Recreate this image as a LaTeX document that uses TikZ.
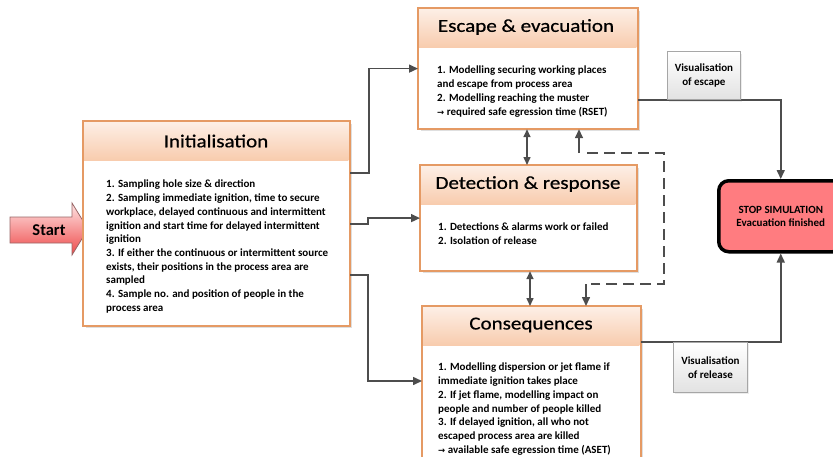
\documentclass[tikz,border=0pt]{standalone}
\usepackage{fontspec}
\setmainfont{Carlito}
\newfontfamily\titlefont[FakeStretch=1.15,FakeBold=0.6]{Carlito}
\newfontfamily\bodyfont{Carlito}
\newfontfamily\arrowfont{DejaVu Sans}
\usetikzlibrary{arrows.meta,shadows}
\definecolor{orbd}{HTML}{E59A64}
\definecolor{hdtop}{HTML}{FDEFE6}
\definecolor{hdbot}{HTML}{F8CCAE}
\definecolor{ln}{HTML}{4D4D4D}
\definecolor{stopfill}{HTML}{FF7C80}
\definecolor{startA}{HTML}{FFE4E4}
\definecolor{startB}{HTML}{EE4A4A}
\definecolor{visA}{HTML}{FFFFFF}
\definecolor{visB}{HTML}{E2E2E2}
\newcommand{\ra}{{\arrowfont\fontsize{8.5}{8.5}\selectfont →}}
\tikzset{
  boxbody/.style={draw=orbd, line width=1.2pt, fill=white, inner sep=0pt,
    drop shadow={opacity=0.25, shadow xshift=2.5pt, shadow yshift=-2.5pt}},
  hdr/.style={top color=hdtop, bottom color=hdbot},
  ttl/.style={font=\titlefont\fontsize{18.3}{18.3}\selectfont, text=black},
  bodytxt/.style={anchor=north west, align=left, inner sep=0pt,
    font=\bodyfont\bfseries\fontsize{11}{13.7}\selectfont},
  conn/.style={draw=ln, line width=1.5pt, -{Triangle[length=9pt,width=8pt]}},
  dbl/.style={draw=ln, line width=1.5pt, {Triangle[length=8pt,width=7pt]}-{Triangle[length=8pt,width=7pt]}},
  dsh/.style={draw=ln, line width=1.5pt, dash pattern=on 11pt off 6pt},
  visbox/.style={draw=gray!70, line width=0.8pt, top color=visA, bottom color=visB,
    inner sep=0pt, align=center, font=\bfseries\fontsize{11}{14}\selectfont,
    drop shadow={opacity=0.15, shadow xshift=2pt, shadow yshift=-2pt}},
}
\begin{document}
\begin{tikzpicture}[x=1pt,y=-1pt]
\useasboundingbox (0,0) rectangle (833,456);

% Start arrow
\path[top color=startA, bottom color=startB, draw=gray!80!red, line width=0.8pt]
  (10,217) -- (72,217) -- (72,203) -- (88,229) -- (72,255) -- (72,243) -- (10,243) -- cycle;
\node[font=\bfseries\fontsize{16.5}{16.5}\selectfont, inner sep=0pt] (start) at (49,230) {Start};

% Initialisation
\node[boxbody, anchor=north west, minimum width=266pt, minimum height=204pt] (init) at (83,121) {};
\shade[hdr] (83.6,121.6) rectangle (348.4,160);
\draw[orbd, line width=1.2pt] (init.north west) rectangle (init.south east);
\node[ttl] (initT) at (216,141) {Initialisation};
\node[bodytxt] (initB) at (106,180) {1. Sampling hole size \& direction\\
2. Sampling immediate ignition, time to secure\\
workplace, delayed continuous and intermittent\\
ignition and start time for delayed intermittent\\
ignition\\
3. If either the continuous or intermittent source\\
exists, their positions in the process area are\\
sampled\\
4. Sample no. and position of people in the\\
process area};

% Escape
\node[boxbody, anchor=north west, minimum width=219pt, minimum height=120pt] (esc) at (418,8) {};
\shade[hdr] (418.6,8.6) rectangle (636.4,47);
\draw[orbd, line width=1.2pt] (esc.north west) rectangle (esc.south east);
\node[ttl] (escT) at (526,27) {Escape \& evacuation};
\node[bodytxt] (escB) at (437,66) {1. Modelling securing working places\\
and escape from process area\\
2. Modelling reaching the muster\\
\ra\ required safe egression time (RSET)};

% Detection
\node[boxbody, anchor=north west, minimum width=216pt, minimum height=105pt] (det) at (420,165) {};
\shade[hdr] (420.6,165.6) rectangle (635.4,204);
\draw[orbd, line width=1.2pt] (det.north west) rectangle (det.south east);
\node[ttl] (detT) at (528,184) {Detection \& response};
\node[bodytxt] (detB) at (438,223) {1. Detections \& alarms work or failed\\
2. Isolation of release};

% Consequences
\node[boxbody, anchor=north west, minimum width=218pt, minimum height=156pt] (cons) at (422,306) {};
\shade[hdr] (422.6,306.6) rectangle (639.4,345);
\draw[orbd, line width=1.2pt] (cons.north west) rectangle (cons.south east);
\node[ttl] (consT) at (531,325) {Consequences};
\node[bodytxt] (consB) at (438,363) {1. Modelling dispersion or jet flame if\\
immediate ignition takes place\\
2. If jet flame, modelling impact on\\
people and number of people killed\\
3. If delayed ignition, all who not\\
escaped process area are killed\\
\ra\ available safe egression time (ASET)};

% Stop
\node[draw=black, line width=3.5pt, fill=stopfill, rounded corners=10pt,
  anchor=north west, minimum width=124pt, minimum height=71pt, align=center,
  font=\bfseries\fontsize{11}{13}\selectfont, inner sep=0pt] (stop) at (717,179)
  {STOP SIMULATION\\Evacuation finished};

% connectors from Initialisation
\draw[conn] ([yshift=-52pt]init.north east) -- ++(19,0) |- (esc.west);
\draw[conn] ([yshift=-103pt]init.north east) -- ++(18,0) |- (det.west);
\draw[conn] ([yshift=-154pt]init.north east) -- ++(18,0) |- ([yshift=-75pt]cons.north west);

% double arrows
\draw[dbl] ([xshift=109pt]esc.south west) -- ([xshift=109pt]esc.south west |- det.north);
\draw[dbl] ([xshift=110pt]det.south west) -- ([xshift=110pt]det.south west |- cons.north);

% dashed feedback
\coordinate (dA) at (579,153);
\coordinate (dB) at (587,153);
\coordinate (dC) at (664,153);
\coordinate (dD) at (664,284);
\coordinate (dE) at (591,284);
\coordinate (dF) at (586,284);
\draw[conn] (dA) -- (dA |- esc.south);
\draw[dsh] (dB) -- (dC) -- (dD) -- (dE);
\draw[conn] (dF) -- (dF |- cons.north);

% to stop
\draw[conn] ([yshift=-92pt]esc.north east) -| (stop.north);
\draw[conn] ([yshift=-36pt]cons.north east) -| (stop.south);

% visualisation boxes
\node[visbox, anchor=south west, minimum width=73pt, minimum height=48pt] (visE) at (667,100)
  {Visualisation\\of escape};
\node[visbox, anchor=north west, minimum width=74pt, minimum height=50pt] (visR) at (673,342)
  {Visualisation\\of release};
\end{tikzpicture}
\end{document}
